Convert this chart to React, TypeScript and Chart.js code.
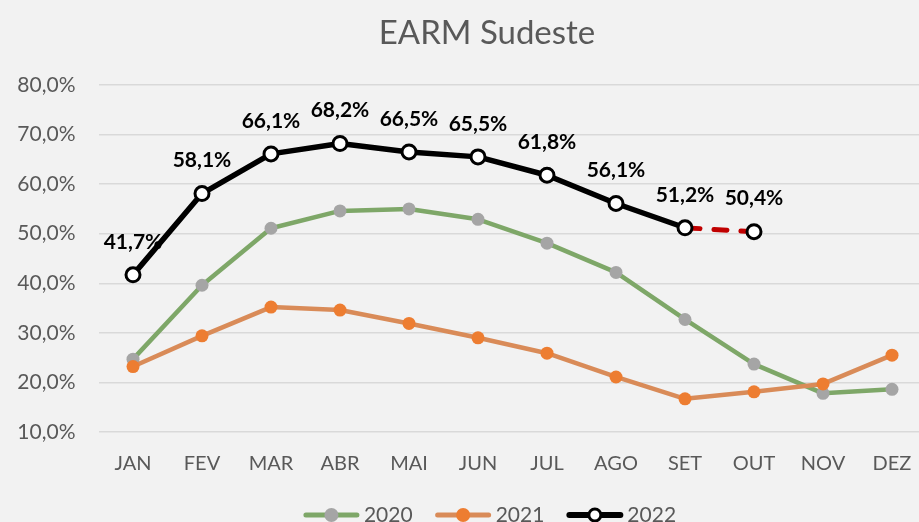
import React, { useEffect, useRef } from "react";
import { Chart, registerables } from "chart.js";

Chart.register(...registerables);

const title = "EARM Sudeste";
const months = ["JAN", "FEV", "MAR", "ABR", "MAI", "JUN", "JUL", "AGO", "SET", "OUT", "NOV", "DEZ"];
const yMin = 10;
const yMax = 80;
const yStep = 10;
const seriesNames = ["2020", "2021", "2022"];
const values2020 = [24.7, 39.6, 51.1, 54.6, 55.0, 52.9, 48.1, 42.2, 32.7, 23.7, 17.8, 18.6];
const values2021 = [23.2, 29.4, 35.2, 34.6, 31.9, 29.0, 25.9, 21.1, 16.7, 18.1, 19.7, 25.5];
const values2022 = [41.7, 58.1, 66.1, 68.2, 66.5, 65.5, 61.8, 56.1, 51.2, 50.4, null, null];
const dashedFromIndex = 9; // segment ending at OUT is the dashed estimate

const FONT = "Lato";
const TEXT = "#595959";
const GREEN = "#7EA768";
const GRAY = "#A5A5A5";
const ORANGE_LINE = "#D98B58";
const ORANGE = "#ED7D31";
const RED = "#C00000";

const fmt = (v: number) => v.toFixed(1).replace(".", ",") + "%";

const W = 975;
const H = 522;

export default function App() {
  const ref = useRef<HTMLCanvasElement | null>(null);

  useEffect(() => {
    const canvas = ref.current!;
    const bgPlugin = {
      id: "bg",
      beforeDraw(chart: any) {
        const c = chart.ctx;
        c.save();
        c.fillStyle = "#F2F2F2";
        c.fillRect(0, 0, chart.width, chart.height);
        c.restore();
      },
    };
    const labelPlugin = {
      id: "labels",
      afterDatasetsDraw(chart: any) {
        const c = chart.ctx;
        const meta = chart.getDatasetMeta(2);
        c.save();
        c.font = `bold 21px ${FONT}`;
        c.fillStyle = "#000";
        c.textAlign = "center";
        c.textBaseline = "middle";
        meta.data.forEach((pt: any, i: number) => {
          const v = values2022[i];
          if (v == null) return;
          c.fillText(fmt(v), pt.x, pt.y - 33);
        });
        c.restore();
      },
      afterDraw(chart: any) {
        const c = chart.ctx;
        c.save();
        // title
        c.font = `33px ${FONT}`;
        c.fillStyle = TEXT;
        c.textAlign = "center";
        c.textBaseline = "middle";
        c.fillText(title, 487, 33);
        // legend
        const items = [
          { name: seriesNames[0], line: GREEN, fill: GRAY, stroke: GRAY, lw: 5 },
          { name: seriesNames[1], line: ORANGE_LINE, fill: ORANGE, stroke: ORANGE, lw: 5 },
          { name: seriesNames[2], line: "#000", fill: "#fff", stroke: "#000", lw: 6 },
        ];
        c.font = `21px ${FONT}`;
        const lineLen = 55;
        const gapText = 5;
        const gapItem = 23;
        const widths = items.map((it) => lineLen + gapText + c.measureText(it.name).width);
        const total = widths.reduce((a, b) => a + b, 0) + gapItem * (items.length - 1);
        let x = 490 - total / 2;
        const y = 515;
        items.forEach((it, i) => {
          c.strokeStyle = it.line;
          c.lineWidth = it.lw;
          c.lineCap = "round";
          c.beginPath();
          c.moveTo(x + 2, y);
          c.lineTo(x + lineLen - 2, y);
          c.stroke();
          c.beginPath();
          c.arc(x + lineLen / 2, y, i === 2 ? 6 : 7, 0, Math.PI * 2);
          c.fillStyle = it.fill;
          c.fill();
          if (i === 2) {
            c.lineWidth = 3;
            c.strokeStyle = it.stroke;
            c.stroke();
          }
          c.fillStyle = TEXT;
          c.textAlign = "left";
          c.fillText(it.name, x + lineLen + gapText, y);
          x += widths[i] + gapItem;
        });
        c.restore();
      },
    };

    const chart = new Chart(canvas, {
      type: "line",
      data: {
        labels: months,
        datasets: [
          {
            label: seriesNames[0],
            data: values2020,
            borderColor: GREEN,
            borderWidth: 4.5,
            pointBackgroundColor: GRAY,
            pointBorderColor: GRAY,
            pointRadius: 6.5,
            pointBorderWidth: 0,
            order: 3,
          },
          {
            label: seriesNames[1],
            data: values2021,
            borderColor: ORANGE_LINE,
            borderWidth: 4.5,
            pointBackgroundColor: ORANGE,
            pointBorderColor: ORANGE,
            pointRadius: 6.5,
            pointBorderWidth: 0,
            order: 2,
          },
          {
            label: seriesNames[2],
            data: values2022,
            borderColor: "#000",
            borderWidth: 5.5,
            pointBackgroundColor: "#fff",
            pointBorderColor: "#000",
            pointRadius: 7,
            pointBorderWidth: 3,
            order: 1,
            spanGaps: false,
            segment: {
              borderColor: (ctx: any) => (ctx.p1DataIndex === dashedFromIndex ? RED : "#000"),
              borderDash: (ctx: any) => (ctx.p1DataIndex === dashedFromIndex ? [13, 14] : []),
              borderDashOffset: (ctx: any) => (ctx.p1DataIndex === dashedFromIndex ? -2 : 0),
              borderWidth: (ctx: any) => (ctx.p1DataIndex === dashedFromIndex ? 5 : 5.5),
              borderCapStyle: (ctx: any) => (ctx.p1DataIndex === dashedFromIndex ? "round" : "butt"),
            } as any,
          },
        ],
      },
      options: {
        responsive: false,
        animation: false,
        devicePixelRatio: 1,
        layout: { padding: { left: 0, right: W - 926.5, top: 85, bottom: 0 } },
        plugins: {
          legend: { display: false },
          title: { display: false },
          tooltip: { enabled: false },
        },
        elements: { line: { tension: 0, borderJoinStyle: "round" } },
        scales: {
          x: {
            type: "category",
            offset: true,
            grid: { display: false, drawTicks: false },
            border: { display: false },
            ticks: { color: TEXT, font: { family: FONT, size: 20 }, padding: 20 },
            afterFit(scale: any) {
              scale.height = 90;
            },
          },
          y: {
            min: yMin,
            max: yMax,
            grid: { color: "#D9D9D9", lineWidth: 1.5, drawTicks: false },
            border: { display: false },
            ticks: {
              stepSize: yStep,
              color: TEXT,
              padding: 23,
              font: { family: FONT, size: 21 },
              callback: (v: any) => fmt(Number(v)),
            },
            afterFit(scale: any) {
              scale.width = 98.5;
            },
          },
        },
      },
      plugins: [bgPlugin, labelPlugin],
    });
    return () => chart.destroy();
  }, []);

  return (
    <div
      style={{
        position: "fixed",
        left: 0,
        top: 0,
        width: 919,
        height: 522,
        overflow: "hidden",
        background: "#F2F2F2",
      }}
    >
      <canvas ref={ref} width={W} height={H} style={{ display: "block", width: W, height: H }} />
    </div>
  );
}
